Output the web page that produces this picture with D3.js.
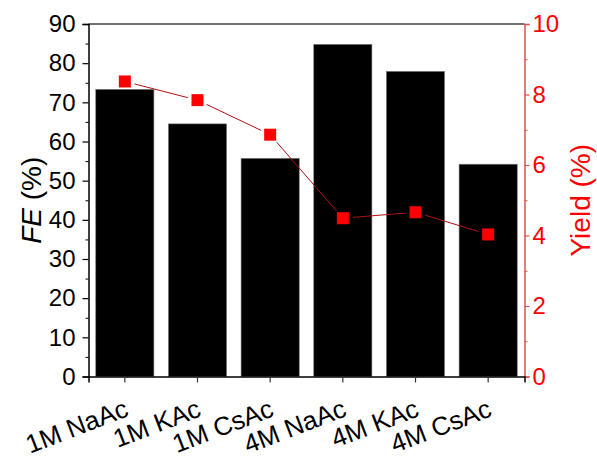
<!DOCTYPE html>
<html><head><meta charset="utf-8">
<script src="https://cdn.jsdelivr.net/npm/d3@7"></script>
<style>body{margin:0;background:#fff;} svg{display:block;}</style>
</head><body>
<svg id="chart" width="597" height="462"></svg>
<script>
const categories = ["1M NaAc","1M KAc","1M CsAc","4M NaAc","4M KAc","4M CsAc"];
const feValues = [73.3, 64.5, 55.7, 84.8, 77.9, 54.2];
const yieldValues = [8.37, 7.84, 6.86, 4.49, 4.66, 4.03];
const feTicks = [0,10,20,30,40,50,60,70,80,90];
const yieldTicks = [0,2,4,6,8,10];

const svg = d3.select("#chart");
const L = 88.5, R = 524.5, T = 24, B = 376.5;
const font = "'Liberation Sans', Arial, sans-serif";

const x = d3.scaleBand().domain(categories).range([L, R]).paddingInner(0.2).paddingOuter(0.1);
const yL = d3.scaleLinear().domain([0, 90]).range([B, T]);
const yR = d3.scaleLinear().domain([0, 10]).range([B, T]);

// bars
svg.append("g").selectAll("rect").data(categories).join("rect")
  .attr("x", d => x(d)).attr("width", x.bandwidth())
  .attr("y", (d,i) => yL(feValues[i])).attr("height", (d,i) => B - yL(feValues[i]))
  .attr("fill", "#000").attr("stroke", "#777").attr("stroke-width", 0.6);

// top border
svg.append("line").attr("x1", L).attr("x2", R).attr("y1", T).attr("y2", T)
  .attr("stroke", "#444").attr("stroke-width", 1.5);

// left axis
const gL = svg.append("g").attr("transform", `translate(${L},0)`)
  .call(d3.axisLeft(yL).tickValues(feTicks).tickSize(6).tickPadding(7).tickFormat(d3.format("d")));
gL.select(".domain").attr("stroke", "#000").attr("stroke-width", 1.5);
gL.selectAll(".tick line").attr("stroke", "#000").attr("stroke-width", 1.2);
gL.selectAll("text").attr("font-family", font).attr("font-size", 24).attr("fill", "#000");
svg.append("g").attr("transform", `translate(${L},0)`)
  .call(d3.axisLeft(yL).tickValues(d3.range(5, 90, 10)).tickSize(3).tickFormat(""))
  .call(g => g.select(".domain").remove())
  .selectAll(".tick line").attr("stroke", "#000").attr("stroke-width", 1);

// right axis
const gR = svg.append("g").attr("transform", `translate(${R},0)`)
  .call(d3.axisRight(yR).tickValues(yieldTicks).tickSize(5).tickPadding(3).tickFormat(d3.format("d")));
gR.select(".domain").attr("stroke", "#e05050").attr("stroke-width", 1.5);
gR.selectAll(".tick line").attr("stroke", "#e05050").attr("stroke-width", 1.2);
gR.selectAll("text").attr("font-family", font).attr("font-size", 24).attr("fill", "#ff0000");
svg.append("g").attr("transform", `translate(${R},0)`)
  .call(d3.axisRight(yR).tickValues([1,3,5,7,9]).tickSize(3).tickFormat(""))
  .call(g => g.select(".domain").remove())
  .selectAll(".tick line").attr("stroke", "#e05050").attr("stroke-width", 1);

// bottom axis
const gB = svg.append("g").attr("transform", `translate(0,${B})`)
  .call(d3.axisBottom(x).tickSize(6).tickFormat(""));
gB.select(".domain").attr("stroke", "#000").attr("stroke-width", 1.5);
gB.selectAll(".tick line").attr("stroke", "#333").attr("stroke-width", 1.2);

// x labels
svg.append("g").selectAll("text").data(categories).join("text")
  .attr("transform", d => `translate(${x(d) + x.bandwidth()/2 + 5},${B + 39}) rotate(-21)`)
  .attr("text-anchor", "end")
  .attr("font-family", font).attr("font-size", 26).attr("fill", "#000")
  .text(d => d);

// yield line with gaps near markers
const pts = yieldValues.map((v,i) => [x(categories[i]) + x.bandwidth()/2, yR(v)]);
const gap = 10;
const segs = d3.pairs(pts).map(([a,b]) => {
  const dx = b[0]-a[0], dy = b[1]-a[1], len = Math.hypot(dx,dy);
  const ux = dx/len, uy = dy/len;
  return [a[0]+ux*gap, a[1]+uy*gap, b[0]-ux*gap, b[1]-uy*gap];
});
svg.append("g").selectAll("line").data(segs).join("line")
  .attr("x1", d => d[0]).attr("y1", d => d[1]).attr("x2", d => d[2]).attr("y2", d => d[3])
  .attr("stroke", "#b01010").attr("stroke-width", 1);

const ms = 12;
svg.append("g").selectAll("rect").data(pts).join("rect")
  .attr("x", d => d[0]-ms/2).attr("y", d => d[1]-ms/2)
  .attr("width", ms).attr("height", ms).attr("fill", "#ff0000");

// axis titles
const cy = (T + B) / 2;
const tL = svg.append("text")
  .attr("transform", `translate(41,${cy}) rotate(-90)`)
  .attr("text-anchor", "middle").attr("font-family", font).attr("font-size", 28).attr("fill", "#000");
tL.append("tspan").attr("font-style", "italic").text("FE");
tL.append("tspan").text(" (%)");

svg.append("text")
  .attr("transform", `translate(590,${cy}) rotate(-90)`)
  .attr("text-anchor", "middle").attr("font-family", font).attr("font-size", 28).attr("fill", "#ff0000")
  .text("Yield (%)");
</script>
</body></html>
